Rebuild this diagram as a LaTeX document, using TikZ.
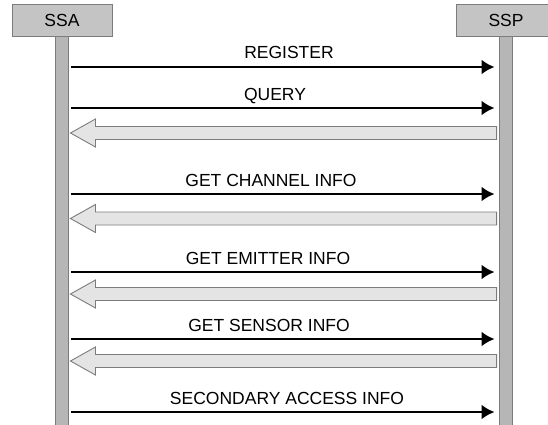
\documentclass[tikz,border=0pt]{standalone}
\usepackage{fontspec}
\setmainfont{Liberation Sans}
\usetikzlibrary{positioning,arrows.meta}
\definecolor{edgegray}{HTML}{7C7C7C}
\definecolor{boxgray}{HTML}{C4C4C4}
\definecolor{linegray}{HTML}{B6B6B6}
\definecolor{replygray}{HTML}{E4E4E4}
\tikzset{
  actor/.style={draw=edgegray, fill=boxgray, line width=0.9pt, minimum width=100pt,
    minimum height=32pt, inner sep=0pt, font=\fontsize{17.5}{20}\selectfont},
  lifeline/.style={draw=edgegray, fill=linegray, line width=0.9pt, minimum width=13pt,
    minimum height=400pt, inner sep=0pt},
  msg/.style={line width=2.5pt, -{Latex[length=13pt,width=15pt]}},
  reply/.style={draw=edgegray, fill=replygray, line width=0.9pt, line join=miter},
  msglabel/.style={anchor=base, inner sep=0pt, font=\fontsize{17.5}{20}\selectfont}
}
\begin{document}
\begin{tikzpicture}[x=1pt,y=-1pt]
  \clip (0,0) rectangle (548,425);
  \node [actor] (ssa) at (62,20) {SSA};
  \node [actor] (ssp) at (506,20) {SSP};
  \node [lifeline, below=0pt of ssa] (ssaline) {};
  \node [lifeline, below=0pt of ssp] (sspline) {};
  % requests
  \foreach \y/\x/\txt in {67/289/REGISTER, 108/275/QUERY, 194/271/GET CHANNEL INFO,
      272/268/GET EMITTER INFO, 339/269/GET SENSOR INFO, 412/287/SECONDARY ACCESS INFO} {
    \coordinate (m) at (0,\y);
    \draw [msg] ([xshift=2.5pt]ssaline.east |- m) -- ([xshift=-4.5pt]sspline.west |- m);
    \node [msglabel] (lbl) at (\x,\y-8) {\txt};
  }
  % answers
  \foreach \y in {133,218.5,294,361} {
    \coordinate (m) at (0,\y);
    \coordinate (l) at ([xshift=1.5pt]ssaline.east |- m);
    \coordinate (r) at ([xshift=-2.5pt]sspline.west |- m);
    \draw [reply] (l) -- ([shift={(25,-14)}]l) -- ([shift={(25,-6.5)}]l)
      -- ([shift={(0,-6.5)}]r) -- ([shift={(0,6.5)}]r)
      -- ([shift={(25,6.5)}]l) -- ([shift={(25,14)}]l) -- cycle;
  }
\end{tikzpicture}
\end{document}
